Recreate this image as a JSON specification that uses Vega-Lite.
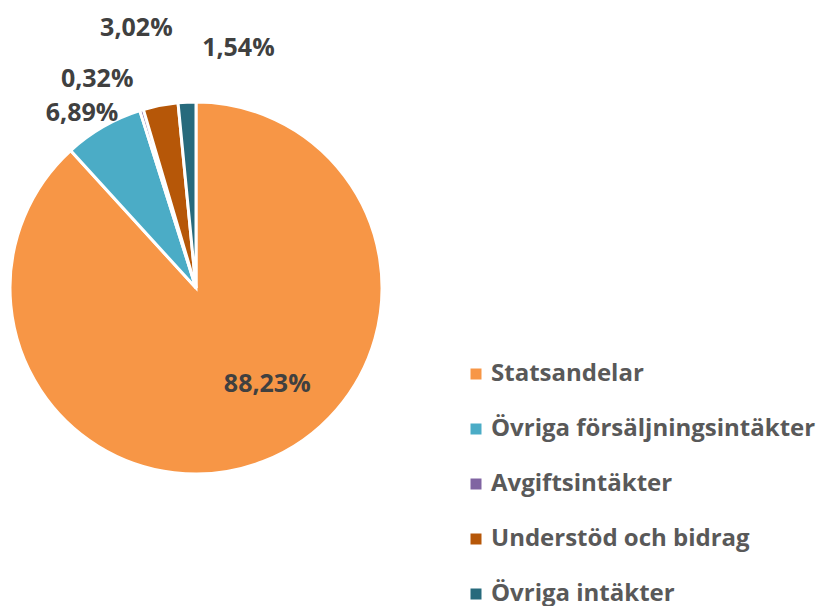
{
  "$schema": "https://vega.github.io/schema/vega-lite/v6.json",
  "width": 392,
  "height": 576,
  "autosize": {"type": "none"},
  "padding": {"left": 0, "top": 0, "right": 425, "bottom": 30},
  "background": "white",
  "config": {
    "view": {"stroke": null},
    "locale": {"number": {"decimal": ",", "thousands": " ", "grouping": [3], "currency": ["", " kr"]}}
  },
  "data": {
    "values": [
      {"i": 1, "k": "Statsandelar", "v": 0.8823},
      {"i": 2, "k": "Övriga försäljningsintäkter", "v": 0.0689},
      {"i": 3, "k": "Avgiftsintäkter", "v": 0.0032},
      {"i": 4, "k": "Understöd och bidrag", "v": 0.0302},
      {"i": 5, "k": "Övriga intäkter", "v": 0.0154}
    ]
  },
  "encoding": {
    "theta": {"field": "v", "type": "quantitative", "stack": true},
    "order": {"field": "i", "type": "quantitative"}
  },
  "layer": [
    {
      "mark": {"type": "arc", "outerRadius": 186, "stroke": "white", "strokeWidth": 3},
      "encoding": {
        "color": {
          "field": "k",
          "type": "nominal",
          "sort": ["Statsandelar", "Övriga försäljningsintäkter", "Avgiftsintäkter", "Understöd och bidrag", "Övriga intäkter"],
          "scale": {
            "domain": ["Statsandelar", "Övriga försäljningsintäkter", "Avgiftsintäkter", "Understöd och bidrag", "Övriga intäkter"],
            "range": ["#F79646", "#4BACC6", "#8064A2", "#B65708", "#276A7C"]
          },
          "legend": {
            "title": null,
            "orient": "none",
            "legendX": 464,
            "legendY": 362,
            "symbolType": "square",
            "symbolSize": 121,
            "symbolStrokeWidth": 0,
            "labelFont": "Open Sans",
            "labelFontWeight": "bold",
            "labelFontSize": 24,
            "labelColor": "#595959",
            "labelOffset": 3,
            "rowPadding": 31,
            "labelLimit": 400
          }
        }
      }
    },
    {
      "mark": {"type": "text", "radius": 117, "dx": 29, "dy": -13, "font": "Open Sans", "fontWeight": "bold", "fontSize": 25, "fill": "#404040"},
      "encoding": {
        "detail": {"field": "k", "type": "nominal"},
        "text": {"condition": {"test": "datum.k === 'Statsandelar'", "field": "v", "format": ".2%"}, "value": ""}
      }
    },
    {
      "mark": {"type": "text", "radius": 210, "dx": -9, "dy": 7, "font": "Open Sans", "fontWeight": "bold", "fontSize": 25, "fill": "#404040"},
      "encoding": {
        "detail": {"field": "k", "type": "nominal"},
        "text": {"condition": {"test": "datum.k === 'Övriga försäljningsintäkter'", "field": "v", "format": ".2%"}, "value": ""}
      }
    },
    {
      "mark": {"type": "text", "radius": 215, "dx": -36, "dy": -3, "font": "Open Sans", "fontWeight": "bold", "fontSize": 25, "fill": "#404040"},
      "encoding": {
        "detail": {"field": "k", "type": "nominal"},
        "text": {"condition": {"test": "datum.k === 'Avgiftsintäkter'", "field": "v", "format": ".2%"}, "value": ""}
      }
    },
    {
      "mark": {"type": "text", "radius": 250, "dx": -12, "dy": -15, "font": "Open Sans", "fontWeight": "bold", "fontSize": 25, "fill": "#404040"},
      "encoding": {
        "detail": {"field": "k", "type": "nominal"},
        "text": {"condition": {"test": "datum.k === 'Understöd och bidrag'", "field": "v", "format": ".2%"}, "value": ""}
      }
    },
    {
      "mark": {"type": "text", "radius": 240, "dx": 54, "dy": 0, "font": "Open Sans", "fontWeight": "bold", "fontSize": 25, "fill": "#404040"},
      "encoding": {
        "detail": {"field": "k", "type": "nominal"},
        "text": {"condition": {"test": "datum.k === 'Övriga intäkter'", "field": "v", "format": ".2%"}, "value": ""}
      }
    }
  ]
}
